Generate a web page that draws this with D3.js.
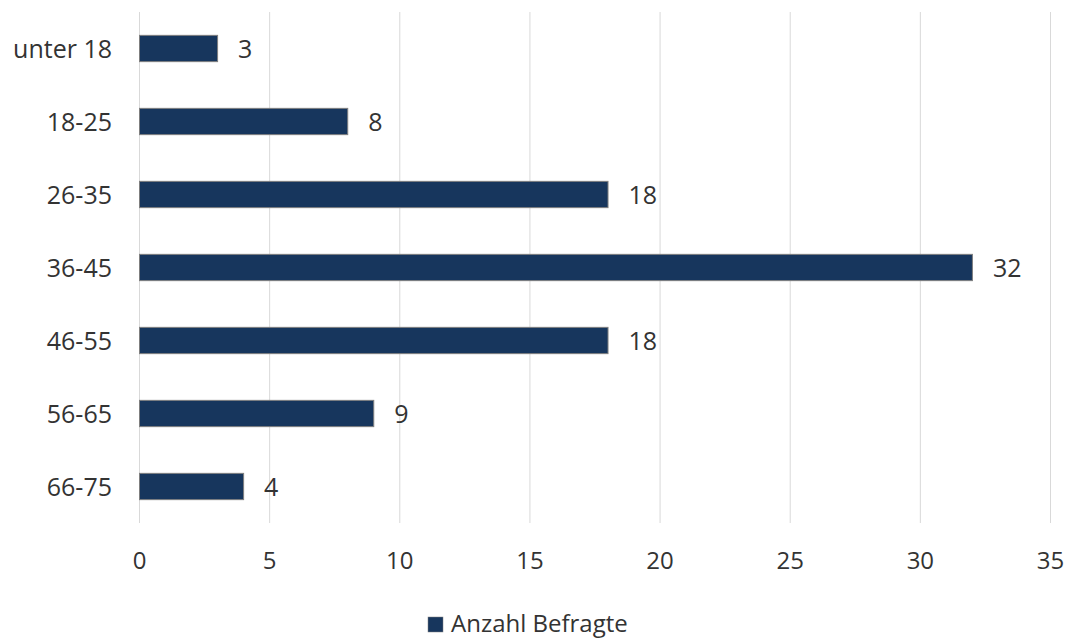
<!DOCTYPE html>
<html>
<head>
<meta charset="utf-8">
<script src="https://cdn.jsdelivr.net/npm/d3@7"></script>
<style>
  html, body { margin: 0; padding: 0; background: #fff; }
  svg { display: block; font-family: "Open Sans", "Noto Sans", sans-serif; }
</style>
</head>
<body>
<svg id="chart" width="1071" height="640"></svg>
<script>
// Age groups of respondents and their counts
const categories = ["unter 18", "18-25", "26-35", "36-45", "46-55", "56-65", "66-75"];
const values = [3, 8, 18, 32, 18, 9, 4];
const xTicks = [0, 5, 10, 15, 20, 25, 30, 35];
const seriesName = "Anzahl Befragte";

const svg = d3.select("#chart");
const textColor = "#333333";
const barColor = "#17365d";

const x = d3.scaleLinear().domain([0, 35]).range([139, 1050]);
const y = d3.scaleBand().domain(categories).range([12, 523])
  .paddingInner(0.64).paddingOuter(0.32);

// Vertical gridlines
svg.append("g").selectAll("line").data(xTicks).join("line")
  .attr("x1", d => x(d) + 0.5).attr("x2", d => x(d) + 0.5)
  .attr("y1", 12).attr("y2", 523)
  .attr("stroke", "#d9d9d9").attr("stroke-width", 1);

// X axis labels
const xAxis = d3.axisBottom(x).tickValues(xTicks).tickSize(0).tickPadding(0);
const gx = svg.append("g").attr("transform", "translate(0,552)").call(xAxis);
gx.select(".domain").remove();
gx.selectAll("text")
  .attr("fill", textColor).attr("font-size", 24).attr("dy", "0.72em")
  .style("font-family", "'Open Sans', sans-serif");

// Y axis labels
const yAxis = d3.axisLeft(y).tickSize(0).tickPadding(27);
const gy = svg.append("g").attr("transform", "translate(139,0)").call(yAxis);
gy.select(".domain").remove();
gy.selectAll("text")
  .attr("fill", textColor).attr("font-size", 25).attr("dy", "0.36em")
  .style("font-family", "'Open Sans', sans-serif");

// Bars
svg.append("g").selectAll("rect").data(values).join("rect")
  .attr("x", x(0) + 0.5)
  .attr("y", (d, i) => y(categories[i]))
  .attr("width", d => x(d) - x(0))
  .attr("height", y.bandwidth())
  .attr("fill", barColor)
  .attr("stroke", "#7f7f7f").attr("stroke-width", 1);

// Value labels
svg.append("g").selectAll("text").data(values).join("text")
  .attr("x", d => x(d) + 21)
  .attr("y", (d, i) => y(categories[i]) + y.bandwidth() / 2)
  .attr("dy", "0.38em")
  .attr("fill", textColor).attr("font-size", 25)
  .text(d => d);

// Legend
const legend = svg.append("g");
legend.append("rect")
  .attr("x", 428).attr("y", 617).attr("width", 15).attr("height", 15)
  .attr("fill", barColor).attr("stroke", "#7f7f7f").attr("stroke-width", 0.5);
legend.append("text")
  .attr("x", 451).attr("y", 632)
  .attr("fill", textColor).attr("font-size", 24)
  .text(seriesName);
</script>
</body>
</html>
